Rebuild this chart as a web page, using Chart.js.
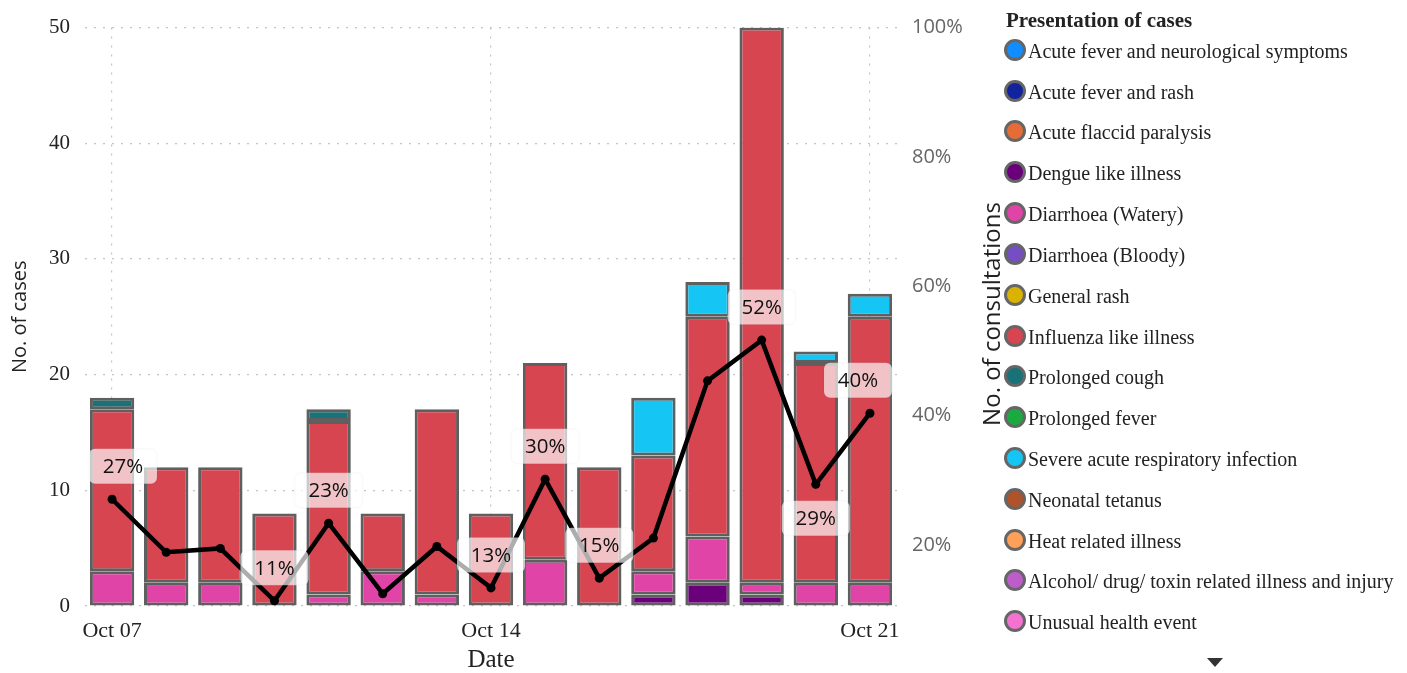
<!DOCTYPE html>
<html><head><meta charset="utf-8">
<script src="https://cdn.jsdelivr.net/npm/chart.js@4.4.1/dist/chart.umd.min.js"></script>
<style>
html,body{margin:0;padding:0;background:#fff;width:1407px;height:673px;overflow:hidden;}
#wrap{position:absolute;left:0;top:0;width:1005px;height:673px;}
#legend{position:absolute;left:1005px;top:0;width:402px;height:673px;font-family:"Liberation Serif",serif;color:#222;}
.lt{position:absolute;left:1px;top:8px;font-weight:bold;font-size:21px;line-height:24px;white-space:nowrap;}
.li{position:absolute;left:0;height:24px;line-height:24px;font-size:20px;white-space:nowrap;}
.dot{position:absolute;left:-1px;top:0px;width:16px;height:16px;border:3px solid #666;border-radius:50%;}
.li .t{position:absolute;left:23px;top:0;}
.tri{position:absolute;left:202px;top:658px;width:0;height:0;border-left:8.5px solid transparent;border-right:8.5px solid transparent;border-top:9px solid #333;}
</style></head>
<body>
<div id="wrap"><canvas id="c" width="1005" height="673"></canvas></div>
<div id="legend"></div>
<script>
// ---- data ----
const dates = ['Oct 07','Oct 08','Oct 09','Oct 10','Oct 11','Oct 12','Oct 13','Oct 14','Oct 15','Oct 16','Oct 17','Oct 18','Oct 19','Oct 20','Oct 21'];
const seriesNames = ['Acute fever and neurological symptoms','Acute fever and rash','Acute flaccid paralysis','Dengue like illness','Diarrhoea (Watery)','Diarrhoea (Bloody)','General rash','Influenza like illness','Prolonged cough','Prolonged fever','Severe acute respiratory infection','Neonatal tetanus','Heat related illness','Alcohol/ drug/ toxin related illness and injury','Unusual health event'];
const seriesColors = ['#118DFF','#12239E','#E66C37','#6B007B','#E044A7','#744EC2','#D9B300','#D64550','#197278','#1AAB40','#15C6F4','#B0522A','#FFA058','#BE5DC9','#F472D0'];
const noCases         = [0,0,0,0,0,0,0,0,0,0,0,0,0,0,0];
const dengue          = [0,0,0,0,0,0,0,0,0,0,1,2,1,0,0];
const diarrhoeaWatery = [3,2,2,0,1,3,1,0,4,0,2,4,1,2,2];
const influenza       = [14,10,10,8,15,5,16,8,17,12,10,19,48,19,23];
const prolongedCough  = [1,0,0,0,1,0,0,0,0,0,0,0,0,0,0];
const sari            = [0,0,0,0,0,0,0,0,0,0,5,3,0,1,2];
const pctConsultations = [27.1,18.9,19.5,11.4,23.4,12.5,19.8,13.4,30.2,14.9,21.1,45.4,51.7,29.4,40.4];
const rightTicks = [20,40,60,80,100];
const labelPlacement = ['above',null,null,'above','above',null,null,'above','above','above',null,null,'above','below','above'];

const seriesData = [noCases,noCases,noCases,dengue,diarrhoeaWatery,noCases,noCases,influenza,prolongedCough,noCases,sari,noCases,noCases,noCases,noCases];

// ---- legend (HTML) ----
const lg = document.getElementById('legend');
let h = '<div class="lt">Presentation of cases</div>';
seriesNames.forEach((n,i)=>{
  const top = 38.7 + 40.83*i;
  h += `<div class="li" style="top:${top}px"><span class="dot" style="background:${seriesColors[i]}"></span><span class="t">${n}</span></div>`;
});
h += '<div class="tri"></div>';
lg.innerHTML = h;

// ---- chart ----
const datasets = seriesNames.map((name,i)=>({
  type:'bar', label:name, data:seriesData[i], backgroundColor:seriesColors[i],
  borderColor:'#5f5f5f', borderWidth:3, borderSkipped:false, yAxisID:'y', order:2,
  barPercentage:0.82, categoryPercentage:1, stack:'cases'
}));
datasets.push({type:'line', label:'% consultations', data:pctConsultations, yAxisID:'y1',
  borderColor:'#000', backgroundColor:'#000', borderWidth:4.5, pointRadius:4.5, pointHoverRadius:4.5,
  pointBorderWidth:0, tension:0, order:1});

const labelPlugin = {
  id:'pctLabels',
  afterDatasetsDraw(chart){
    const ctx = chart.ctx, ca = chart.chartArea;
    const meta = chart.getDatasetMeta(datasets.length-1);
    ctx.save();
    ctx.font = '20.5px "Open Sans"';
    meta.data.forEach((pt,i)=>{
      const pl = labelPlacement[i];
      if(!pl) return;
      const txt = Math.round(pctConsultations[i]) + '%';
      const w = 68, hgt = 35;
      let left = pt.x - w/2;
      if(left < ca.left+4) left = ca.left+4;
      if(left + w > ca.right-5) left = ca.right-5-w;
      const cy = pl==='above' ? pt.y-33 : pt.y+34;
      const top = cy - hgt/2;
      ctx.beginPath();
      ctx.roundRect(left, top, w, hgt, 6);
      ctx.fillStyle = 'rgba(255,255,255,0.68)';
      ctx.fill();
      ctx.strokeStyle = 'rgba(0,0,0,0.025)';
      ctx.lineWidth = 1.5;
      ctx.stroke();
      ctx.fillStyle = '#111';
      ctx.textAlign = 'center';
      ctx.textBaseline = 'middle';
      ctx.fillText(txt, left + w/2, cy+1);
    });
    ctx.restore();
  },
  afterDraw(chart){
    const ctx = chart.ctx;
    ctx.save();
    ctx.translate(993, 314);
    ctx.rotate(-Math.PI/2);
    ctx.font = '24px "Open Sans"';
    ctx.fillStyle = '#222';
    ctx.textAlign = 'center';
    ctx.textBaseline = 'middle';
    ctx.fillText('No. of consultations', 0, 0);
    ctx.restore();
  }
};

new Chart(document.getElementById('c'), {
  data:{labels:dates, datasets},
  options:{
    responsive:false, animation:false,
    layout:{padding:{top:25,left:0,right:0,bottom:0}},
    plugins:{legend:{display:false}, tooltip:{enabled:false}},
    scales:{
      x:{
        offset:true,
        border:{display:false, dash:[2,7]},
        grid:{offset:false, drawTicks:false, lineWidth:1.2, color:c=> (c.index%7===0)?'#c4c4c4':'rgba(0,0,0,0)'},
        ticks:{autoSkip:false, maxRotation:0, padding:12, color:'#222',
          font:{family:'Liberation Serif', size:22},
          callback:(v,i)=> i%7===0 ? dates[i] : ''},
        title:{display:true, text:'Date', color:'#222', font:{family:'Liberation Serif', size:25, lineHeight:1}, padding:{top:0,bottom:0}},
        afterFit:s=>{s.height=67;}
      },
      y:{
        stacked:true, position:'left', min:0, max:50,
        border:{display:false, dash:[2,7]},
        grid:{drawTicks:false, color:'#c4c4c4', lineWidth:1.2},
        ticks:{stepSize:10, padding:15, color:'#222', font:{family:'Liberation Serif', size:21}},
        title:{display:true, text:'No. of cases', color:'#222', font:{family:'Open Sans', size:20}, padding:{top:8,bottom:0}},
        afterFit:s=>{s.width=85;}
      },
      y1:{
        position:'right', min:10.6, max:100,
        border:{display:false},
        grid:{display:false, drawTicks:false},
        ticks:{padding:15, color:'#666', font:{family:'Open Sans', size:20}, callback:v=>v+'%'},
        afterBuildTicks:s=>{s.ticks = rightTicks.map(v=>({value:v}));},
        afterFit:s=>{s.width=108;}
      }
    }
  },
  plugins:[labelPlugin]
});
</script>
</body></html>
